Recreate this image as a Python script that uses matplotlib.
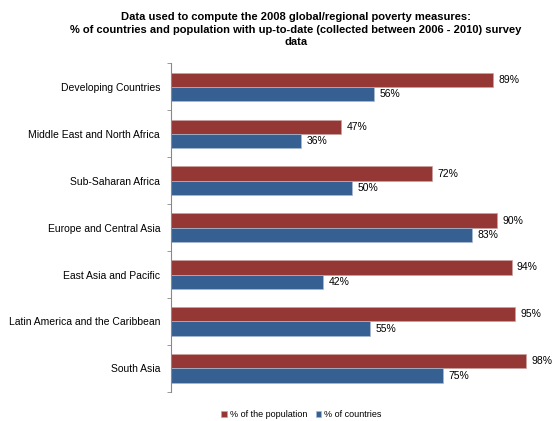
import matplotlib
matplotlib.use('Agg')
import matplotlib.pyplot as plt
import numpy as np

plt.rcParams['font.family'] = ['Liberation Sans', 'DejaVu Sans']

regions = ['Developing Countries', 'Middle East and North Africa', 'Sub-Saharan Africa',
           'Europe and Central Asia', 'East Asia and Pacific',
           'Latin America and the Caribbean', 'South Asia']
pct_population = [89, 47, 72, 90, 94, 95, 98]
pct_countries = [56, 36, 50, 83, 42, 55, 75]

red = '#953735'
blue = '#376092'

fig = plt.figure(figsize=(5.52, 4.21), dpi=100)
ax = fig.add_axes([0.31, 0.069, 0.656, 0.781])

y = np.arange(len(regions))
h = 0.3
ax.barh(y - h / 2, pct_population, height=h, color=red, edgecolor='#c9a2a1', linewidth=0.5,
        label='% of the population')
ax.barh(y + h / 2, pct_countries, height=h, color=blue, edgecolor='#a9bad0', linewidth=0.5,
        label='% of countries')

for i in range(len(regions)):
    ax.text(pct_population[i] + 1.5, y[i] - h / 2, f'{pct_population[i]}%',
            va='center', ha='left', fontsize=7.5)
    ax.text(pct_countries[i] + 1.5, y[i] + h / 2, f'{pct_countries[i]}%',
            va='center', ha='left', fontsize=7.5)

ax.set_xlim(0, 100)
ax.set_ylim(len(regions) - 0.5, -0.5)
ax.set_yticks(y)
ax.set_yticklabels(regions, fontsize=7.5)
ax.tick_params(axis='y', length=0, pad=8)
ax.set_yticks(np.arange(len(regions) + 1) - 0.5, minor=True)
ax.tick_params(axis='y', which='minor', length=3, color='#888888')
ax.set_xticks([])
for s in ['top', 'right', 'bottom']:
    ax.spines[s].set_visible(False)
ax.spines['left'].set_color('#888888')
ax.spines['left'].set_linewidth(0.8)

fig.suptitle('Data used to compute the 2008 global/regional poverty measures:\n'
             '% of countries and population with up-to-date (collected between 2006 - 2010) survey\n'
             'data', fontsize=8, fontweight='bold', x=0.536, y=0.972, linespacing=1.35)

ax.legend(loc='upper center', bbox_to_anchor=(0.36, -0.03), ncol=2, frameon=False,
          fontsize=6.5, handlelength=0.6, handleheight=0.6, handletextpad=0.3, columnspacing=1.0)

fig.savefig('out.png', dpi=100)
